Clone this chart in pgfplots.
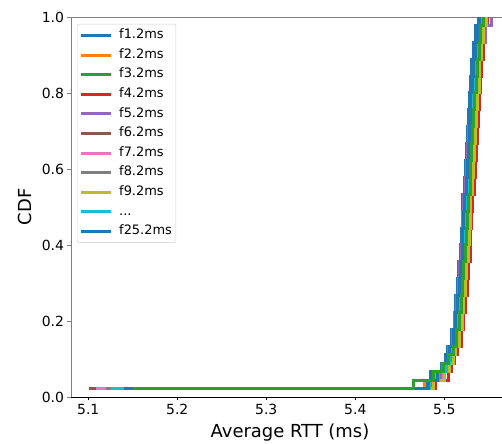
\documentclass[border=0pt]{standalone}
\usepackage{fontspec}
\setmainfont{DejaVu Sans}
\usepackage{pgfplots}
\usepackage{pgfplotstable}
\pgfplotsset{compat=1.18}
\definecolor{c1}{HTML}{1F77B4}
\definecolor{c2}{HTML}{FF7F0E}
\definecolor{c3}{HTML}{2CA02C}
\definecolor{c4}{HTML}{D62728}
\definecolor{c5}{HTML}{9467BD}
\definecolor{c6}{HTML}{8C564B}
\definecolor{c7}{HTML}{E377C2}
\definecolor{c8}{HTML}{7F7F7F}
\definecolor{c9}{HTML}{BCBD22}
\definecolor{c10}{HTML}{17BECF}
\definecolor{spine}{HTML}{808080}

\pgfplotstableread{
y      s1    s2    s3    s4    s5    s6    s7    s8    s9    s10   s11
0.0222 5.104 5.118 5.150 5.112 5.106 5.101 5.109 5.120 5.133 5.126 5.140
0.0444 5.480 5.478 5.465 5.490 5.486 5.484 5.487 5.485 5.488 5.483 5.482
0.0667 5.485 5.490 5.488 5.505 5.495 5.497 5.498 5.496 5.500 5.494 5.492
0.0889 5.497 5.501 5.499 5.508 5.498 5.504 5.505 5.503 5.506 5.502 5.499
0.1111 5.501 5.505 5.505 5.512 5.502 5.508 5.509 5.507 5.510 5.506 5.503
0.1333 5.504 5.508 5.510 5.515 5.505 5.511 5.512 5.510 5.513 5.509 5.506
0.1778 5.508 5.512 5.514 5.519 5.509 5.515 5.516 5.514 5.517 5.513 5.510
0.2222 5.511 5.515 5.517 5.522 5.512 5.518 5.519 5.517 5.520 5.516 5.513
0.2667 5.513 5.517 5.519 5.524 5.514 5.520 5.521 5.519 5.522 5.518 5.515
0.3111 5.515 5.519 5.521 5.526 5.516 5.522 5.523 5.521 5.524 5.520 5.517
0.3556 5.516 5.520 5.522 5.527 5.517 5.523 5.522 5.522 5.525 5.521 5.518
0.4000 5.518 5.522 5.524 5.529 5.519 5.525 5.524 5.524 5.527 5.523 5.520
0.4444 5.519 5.523 5.525 5.530 5.520 5.526 5.525 5.525 5.528 5.524 5.521
0.4889 5.520 5.524 5.526 5.531 5.521 5.527 5.523 5.526 5.529 5.525 5.522
0.5333 5.521 5.525 5.527 5.532 5.522 5.528 5.524 5.527 5.530 5.526 5.523
0.5778 5.523 5.527 5.529 5.534 5.524 5.530 5.526 5.529 5.532 5.528 5.525
0.6222 5.524 5.528 5.530 5.535 5.525 5.531 5.527 5.530 5.533 5.529 5.526
0.6667 5.525 5.529 5.531 5.536 5.526 5.532 5.528 5.531 5.534 5.530 5.527
0.7111 5.526 5.530 5.532 5.537 5.527 5.533 5.529 5.532 5.535 5.531 5.528
0.7556 5.527 5.531 5.533 5.538 5.529 5.534 5.530 5.533 5.536 5.532 5.529
0.8000 5.528 5.532 5.534 5.539 5.531 5.535 5.531 5.534 5.537 5.533 5.530
0.8444 5.530 5.534 5.536 5.541 5.534 5.537 5.533 5.536 5.539 5.535 5.532
0.8889 5.531 5.535 5.537 5.542 5.536 5.538 5.534 5.537 5.540 5.536 5.533
0.9333 5.533 5.537 5.539 5.544 5.540 5.540 5.536 5.539 5.542 5.538 5.535
0.9778 5.535 5.539 5.541 5.546 5.546 5.542 5.538 5.541 5.544 5.540 5.537
1.0000 5.538 5.540 5.544 5.548 5.553 5.545 5.540 5.544 5.547 5.543 5.539
}\cdf

\begin{document}
\begin{tikzpicture}
\useasboundingbox (-71bp,-47bp) rectangle (431bp,397bp);
\begin{axis}[
  at={(0,0)}, anchor=south west,
  scale only axis, width=438bp, height=380bp,
  xmin=5.0806, xmax=5.5727, ymin=0, ymax=1,
  xtick={5.1,5.2,5.3,5.4,5.5},
  ytick={0,0.2,0.4,0.6,0.8,1.0},
  xticklabel style={/pgf/number format/.cd, fixed, fixed zerofill, precision=1},
  yticklabel style={/pgf/number format/.cd, fixed, fixed zerofill, precision=1},
  /pgf/number format/assume math mode=true,
  tick label style={font=\fontsize{14}{16}\selectfont},
  tick align=outside, major tick length=3.5bp,
  xtick pos=bottom, ytick pos=left,
  xtick style={black, line width=0.8bp},
  ytick style={spine, line width=0.8bp},
  axis line style={draw=none},
  clip mode=individual,
  xlabel={Average RTT (ms)},
  ylabel={CDF},
  label style={font=\fontsize{18}{21}\selectfont},
  xlabel style={at={(axis description cs:0.5,0)}, anchor=base, yshift=-40bp},
  ylabel style={at={(axis description cs:-0.105,0.5)}, anchor=center},
  legend cell align=left,
  legend style={at={(axis description cs:0.0137,0.9816)}, anchor=north west,
    draw=black!20, rounded corners=2bp, fill=white, fill opacity=0.8, text opacity=1,
    font=\fontsize{13}{15}\selectfont, inner xsep=2bp, inner ysep=3bp,
    nodes={inner ysep=2bp, text height=9.5bp, text depth=3bp},
    row sep=3.1bp, column sep=5bp},
  legend image code/.code={\draw[#1, line width=3bp] (0bp,0bp) -- (30bp,0bp);},
  cdfline/.style={line width=3bp, const plot, no markers},
]
\draw[spine, line width=0.8bp] (rel axis cs:0,0) -- (rel axis cs:0,1) -- (rel axis cs:1,1);
\draw[black, line width=0.8bp] (rel axis cs:0,0) -- (rel axis cs:1,0);
\addplot[cdfline, c1] table[x=s1, y=y] {\cdf};
\addlegendentry{f1.2ms}
\addplot[cdfline, c2] table[x=s2, y=y] {\cdf};
\addlegendentry{f2.2ms}
\addplot[cdfline, c3] table[x=s3, y=y] {\cdf};
\addlegendentry{f3.2ms}
\addplot[cdfline, c4] table[x=s4, y=y] {\cdf};
\addlegendentry{f4.2ms}
\addplot[cdfline, c5] table[x=s5, y=y] {\cdf};
\addlegendentry{f5.2ms}
\addplot[cdfline, c6] table[x=s6, y=y] {\cdf};
\addlegendentry{f6.2ms}
\addplot[cdfline, c7] table[x=s7, y=y] {\cdf};
\addlegendentry{f7.2ms}
\addplot[cdfline, c8] table[x=s8, y=y] {\cdf};
\addlegendentry{f8.2ms}
\addplot[cdfline, c9] table[x=s9, y=y] {\cdf};
\addlegendentry{f9.2ms}
\addplot[cdfline, c10] table[x=s10, y=y] {\cdf};
\addlegendentry{...}
\addplot[cdfline, c1] table[x=s11, y=y] {\cdf};
\addlegendentry{f25.2ms}
\addplot[cdfline, c3, forget plot] table[x=s3, y=y] {\cdf};
\end{axis}
\end{tikzpicture}
\end{document}
